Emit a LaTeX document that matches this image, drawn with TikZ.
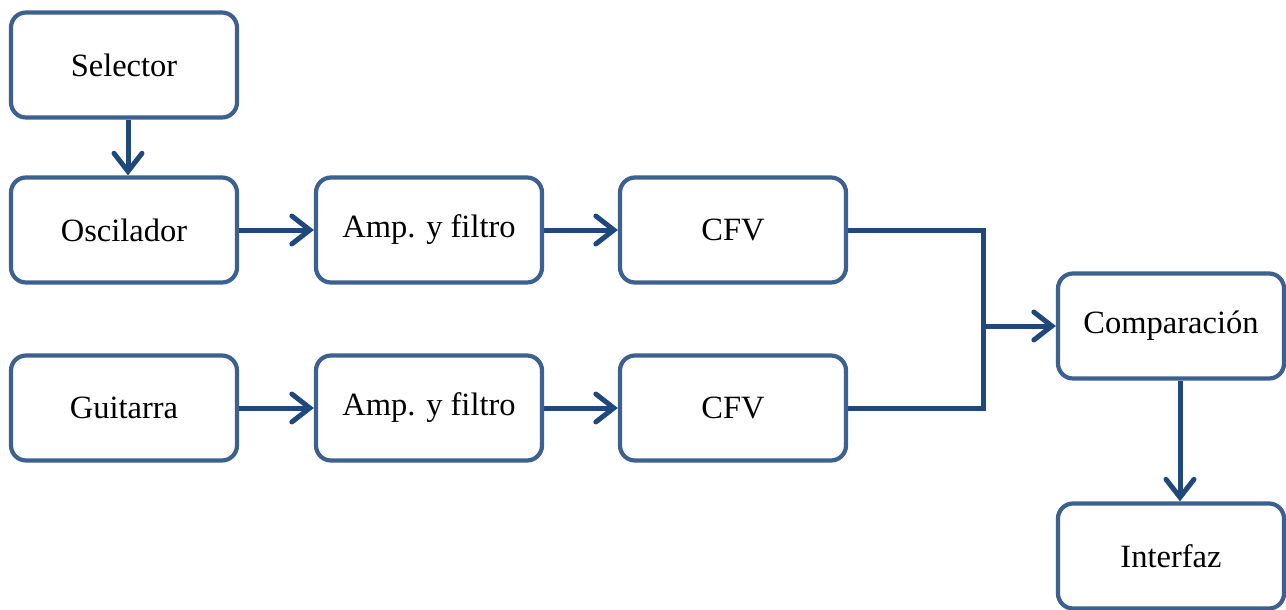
\documentclass[tikz,border=0pt]{standalone}
\usepackage{fontspec}
\setmainfont{Liberation Serif}
\usepackage{tikz}
\usetikzlibrary{arrows.meta}
\definecolor{boxblue}{HTML}{3C6191}
\definecolor{linkblue}{HTML}{1F497D}

\begin{document}
\begin{tikzpicture}[x=1pt,y=-1pt,
  every node/.style={font=\fontsize{32.5}{38}\selectfont},
  block/.style={draw=boxblue,line width=4.2pt,rounded corners=15pt,fill=white,
    minimum width=226pt,minimum height=105pt,inner sep=0pt},
  link/.style={draw=linkblue,line width=5pt},
  flow/.style={link,-{Straight Barb[length=18pt,width=28pt,line cap=round,line width=5pt]}}]
\useasboundingbox (0,0) rectangle (1286,610);
\node[block] (sel) at (124,65) {Selector};
\node[block] (osc) at (124,230) {Oscilador};
\node[block] (amp1) at (429,230) {Amp. y filtro};
\node[block] (cfv1) at (733,230) {CFV};
\node[block] (gui) at (124,408) {Guitarra};
\node[block] (amp2) at (429,408) {Amp. y filtro};
\node[block] (cfv2) at (733,408) {CFV};
\node[block] (comp) at (1171,326) {Comparación};
\node[block] (intf) at (1171,556) {Interfaz};
\coordinate (merge) at (983,326);
\draw[flow] ([xshift=4pt]sel.south) -- ([xshift=4pt]osc.north);
\draw[flow] (osc) -- (amp1);
\draw[flow] (amp1) -- (cfv1);
\draw[flow] (gui) -- (amp2);
\draw[flow] (amp2) -- (cfv2);
\draw[link] (cfv1.east) -| (merge) |- (cfv2.east);
\draw[flow] (merge) -- (comp);
\draw[flow] ([xshift=9pt]comp.south) -- ([xshift=9pt]intf.north);
\end{tikzpicture}
\end{document}
